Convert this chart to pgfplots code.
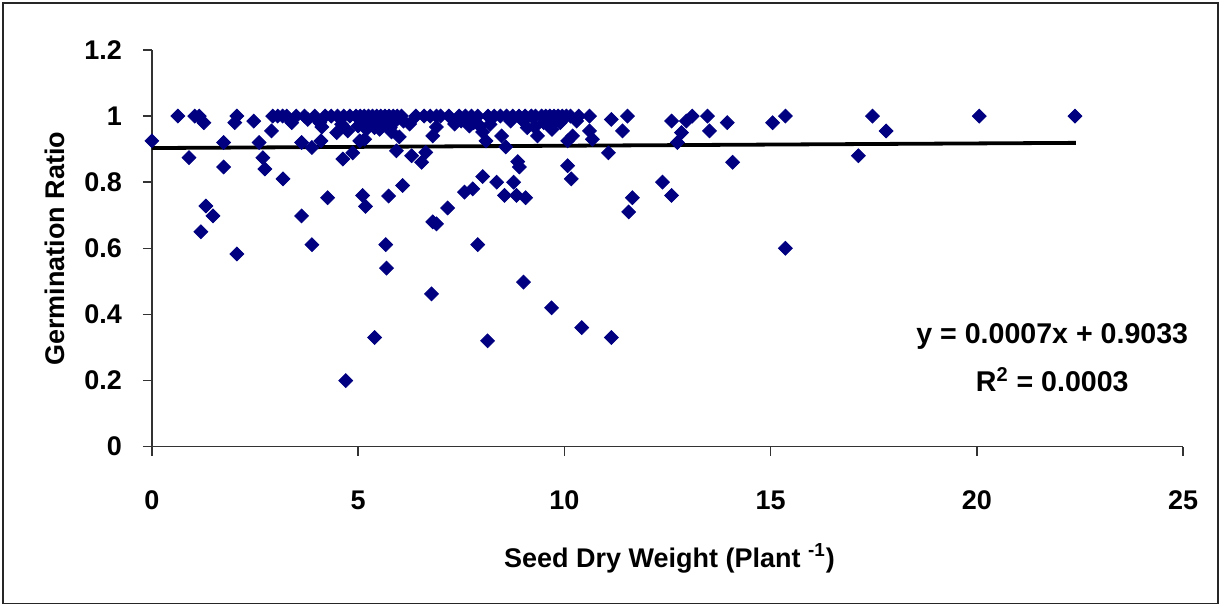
\documentclass[border=0pt]{standalone}
\usepackage{fontspec}
\setmainfont{Liberation Sans}
\usepackage{pgfplots}
\pgfplotsset{compat=1.18}
\definecolor{navy}{RGB}{0,0,128}

\pgfplotstableread{
x y
0.00 0.925
0.63 1.000
1.04 1.000
1.15 1.000
1.26 0.980
0.90 0.874
1.74 0.920
1.74 0.846
2.06 1.000
2.01 0.980
2.47 0.985
2.60 0.920
2.69 0.874
2.74 0.840
2.90 0.955
2.93 1.000
3.05 1.000
3.17 1.000
3.27 1.000
3.18 0.810
3.39 0.980
3.50 1.000
3.63 0.920
3.70 1.000
3.78 0.990
3.88 0.905
3.95 1.000
4.07 0.980
4.10 0.925
4.12 0.967
4.20 1.000
4.35 1.000
4.48 0.950
4.50 1.000
4.60 0.975
4.63 0.870
4.65 1.000
4.75 0.955
4.80 1.000
4.87 0.889
4.95 1.000
5.00 0.970
5.04 0.925
5.05 1.000
5.10 0.985
5.15 1.000
5.16 0.930
5.20 0.960
5.25 1.000
5.30 0.985
5.35 1.000
5.40 0.965
5.45 1.000
5.50 0.970
5.52 0.960
5.55 1.000
5.60 0.985
5.65 1.000
5.70 0.980
5.75 1.000
5.78 0.965
5.81 0.952
5.85 1.000
5.90 0.985
5.93 0.895
5.95 1.000
6.00 0.937
6.05 1.000
6.10 0.985
6.25 0.976
6.30 0.880
6.40 1.000
6.54 0.860
6.60 1.000
6.64 0.890
6.75 1.000
6.81 0.940
6.90 0.967
6.90 1.000
7.00 1.000
7.20 1.000
7.34 0.976
7.45 1.000
7.50 0.985
7.60 0.985
7.60 1.000
7.70 0.970
7.75 1.000
7.80 0.980
7.90 1.000
7.95 0.970
8.02 0.952
8.10 0.925
8.15 1.000
8.20 0.975
8.30 1.000
8.45 1.000
8.48 0.940
8.58 0.907
8.60 1.000
8.70 0.985
8.75 1.000
8.87 0.862
8.90 1.000
8.91 0.846
9.00 0.985
9.05 1.000
9.10 0.965
9.20 1.000
9.28 0.967
9.30 1.000
9.35 0.940
9.45 1.000
9.50 0.980
9.55 1.000
9.60 0.975
9.65 1.000
9.70 0.960
9.75 1.000
9.80 0.985
9.85 1.000
9.90 0.980
9.95 1.000
10.05 1.000
10.08 0.925
10.08 0.850
10.15 1.000
10.17 0.810
10.20 0.940
10.30 0.985
10.35 1.000
10.61 1.000
10.61 0.955
10.68 0.930
11.07 0.889
11.14 0.990
11.41 0.955
11.53 1.000
12.60 0.985
12.74 0.920
12.84 0.950
12.96 0.985
13.10 1.000
13.47 1.000
13.52 0.955
13.95 0.980
14.08 0.860
15.05 0.980
15.36 1.000
17.13 0.880
17.47 1.000
17.80 0.955
20.06 1.000
22.38 1.000
1.31 0.728
1.48 0.698
1.19 0.650
2.06 0.583
3.63 0.698
3.88 0.611
4.26 0.753
5.11 0.760
5.18 0.727
5.74 0.758
6.08 0.790
5.67 0.611
5.69 0.540
6.78 0.462
5.40 0.330
4.70 0.200
6.81 0.680
6.90 0.674
7.17 0.722
7.58 0.770
7.78 0.780
7.90 0.611
8.02 0.817
8.14 0.320
8.36 0.800
8.55 0.760
8.77 0.800
8.84 0.760
9.06 0.753
9.01 0.498
9.69 0.420
10.42 0.360
11.14 0.330
11.56 0.710
11.65 0.753
12.38 0.800
12.60 0.760
15.36 0.600
}\seeddata

\begin{document}
\begin{tikzpicture}
\useasboundingbox (-76pt,-80pt) rectangle (535.5pt,223.5pt);
\draw[line width=0.9pt, black!85] (-74.5pt,-78.5pt) rectangle (533.5pt,222pt);
\begin{axis}[
    at={(0pt,0pt)}, anchor=origin,
    scale only axis,
    width=516pt, height=198.5pt,
    xmin=0, xmax=25,
    ymin=0, ymax=1.2,
    xtick={0,5,...,25},
    ytick={0,0.2,0.4,0.6,0.8,1,1.2},
    axis x line*=bottom,
    axis y line*=left,
    axis line style={line width=0.8pt, black!80},
    tick align=outside,
    major tick length=4.5pt,
    tick style={line width=0.8pt, black!80},
    /pgf/number format/assume math mode=true,
    tick label style={font=\fontsize{13.5}{15}\selectfont\bfseries},
    xticklabel style={yshift=-14pt},
    yticklabel style={xshift=-7pt},
    xlabel={Seed Dry Weight (Plant \textsuperscript{-1})},
    ylabel={Germination Ratio},
    every axis x label/.style={at={(axis description cs:0.502,-0.282)}, anchor=center,
        font=\fontsize{13.5}{15}\selectfont\bfseries},
    every axis y label/.style={at={(axis description cs:-0.094,0.499)}, rotate=90, anchor=center,
        font=\fontsize{13.5}{15}\selectfont\bfseries},
    clip=false,
]
\addplot[only marks, mark=square*, mark size=2.45pt,
    mark options={rotate=45, fill=navy, draw=navy}] table[x=x, y=y] {\seeddata};
\addplot[black, line width=1.9pt] coordinates {(0,0.9033) (22.4,0.9190)};
\node[font=\fontsize{14.3}{16}\selectfont\bfseries] at (axis cs:21.83,0.333) {y = 0.0007x + 0.9033};
\node[font=\fontsize{14.3}{16}\selectfont\bfseries] at (axis cs:21.83,0.2025) {R\textsuperscript{2} = 0.0003};
\end{axis}
\end{tikzpicture}
\end{document}
